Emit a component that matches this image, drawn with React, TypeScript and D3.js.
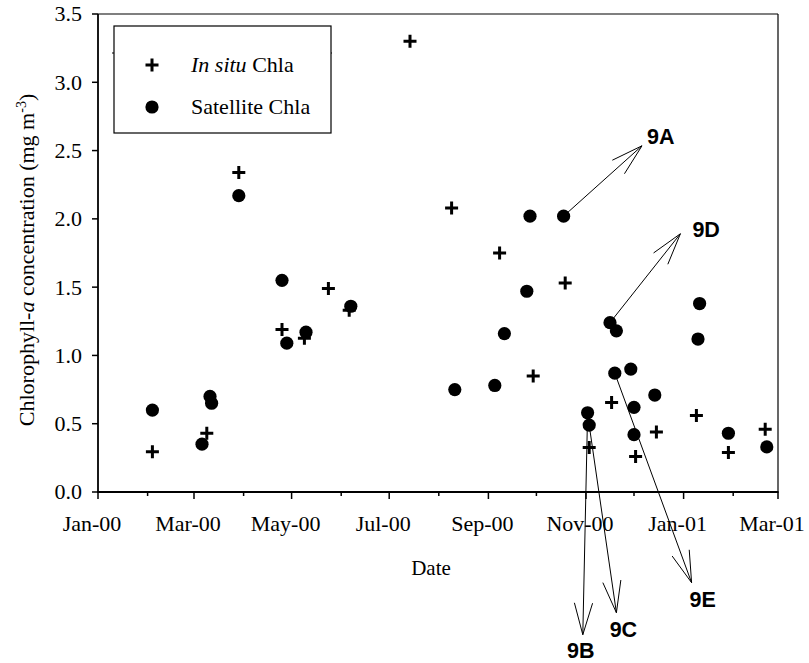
import React from "react";
import * as d3 from "d3";

// ---- Data ----
const inSituDates = [
  "2000-02-04", "2000-03-09", "2000-03-29", "2000-04-25", "2000-05-09", "2000-05-24",
  "2000-06-06", "2000-07-14", "2000-08-09", "2000-09-08", "2000-09-29", "2000-10-19",
  "2000-11-03", "2000-11-17", "2000-12-02", "2000-12-15", "2001-01-09", "2001-01-29",
  "2001-02-21",
];
const inSituValues = [
  0.295, 0.43, 2.34, 1.19, 1.125, 1.49,
  1.33, 3.3, 2.08, 1.75, 0.85, 1.53,
  0.325, 0.655, 0.26, 0.44, 0.56, 0.29,
  0.46,
];
const satDates = [
  "2000-02-04", "2000-03-06", "2000-03-11", "2000-03-12", "2000-03-29", "2000-04-25",
  "2000-04-28", "2000-05-10", "2000-06-07", "2000-08-11", "2000-09-05", "2000-09-11",
  "2000-09-25", "2000-09-27", "2000-10-18", "2000-11-02", "2000-11-03", "2000-11-16",
  "2000-11-20", "2000-11-19", "2000-11-29", "2000-12-01", "2000-12-01", "2000-12-14",
  "2001-01-10", "2001-01-11", "2001-01-29", "2001-02-22",
];
const satValues = [
  0.6, 0.35, 0.7, 0.65, 2.17, 1.55,
  1.09, 1.17, 1.36, 0.75, 0.78, 1.16,
  1.47, 2.02, 2.02, 0.58, 0.49, 1.24,
  1.18, 0.87, 0.9, 0.62, 0.42, 0.71,
  1.12, 1.38, 0.43, 0.33,
];
const yTicks = [0, 0.5, 1.0, 1.5, 2.0, 2.5, 3.0, 3.5];

// annotations: label, from point (date, value), arrow tip (date, value)
const annotLabels = ["9A", "9B", "9C", "9D", "9E"];
const annotFromDates = ["2000-10-18", "2000-11-02", "2000-11-03", "2000-11-16", "2000-11-19"];
const annotFromValues = [2.02, 0.58, 0.49, 1.24, 0.87];
const annotToDates = ["2000-12-06", "2000-10-30", "2000-11-20", "2000-12-30", "2001-01-06"];
const annotToValues = [2.535, -1.045, -0.884, 1.891, -0.664];
// label placement (style): offset from tip, anchor
const annotLabelStyle = [
  { dx: 5, dy: -2, anchor: "start" },
  { dx: -2, dy: 23, anchor: "middle" },
  { dx: 7, dy: 24, anchor: "middle" },
  { dx: 12, dy: 3, anchor: "start" },
  { dx: 11, dy: 24, anchor: "middle" },
];

const parse = d3.timeParse("%Y-%m-%d");

export default function App() {
  const W = 809, H = 663;
  const left = 98, right = 778, top = 14, bottom = 492;
  const x = d3.scaleTime().domain([new Date(2000, 0, 1), new Date(2001, 2, 1)]).range([left, right]);
  const y = d3.scaleLinear().domain([0, 3.5]).range([bottom, top]);
  const months = d3.timeMonth.range(new Date(2000, 0, 1), new Date(2001, 2, 2));
  const fmt = d3.timeFormat("%b-%y");
  const serif = "Liberation Serif";
  const sans = "Liberation Sans";

  const plus = (cx: number, cy: number, k: string) => (
    <path key={k} d={`M${cx - 6.5},${cy}H${cx + 6.5}M${cx},${cy - 6.5}V${cy + 6.5}`} stroke="#000" strokeWidth={3} fill="none" />
  );

  const arrowHead = (x1: number, y1: number, x2: number, y2: number) => {
    const a = Math.atan2(y2 - y1, x2 - x1);
    const L = 33, ha = (16 * Math.PI) / 180;
    const p1 = [x2 - L * Math.cos(a - ha), y2 - L * Math.sin(a - ha)];
    const p2 = [x2 - L * Math.cos(a + ha), y2 - L * Math.sin(a + ha)];
    return `M${p1[0]},${p1[1]}L${x2},${y2}L${p2[0]},${p2[1]}`;
  };

  return (
    <svg width={W} height={H} style={{ position: "absolute", left: 0, top: 0, background: "#fff" }}>
      <rect x={0} y={0} width={W} height={H} fill="#fff" />
      {/* frame */}
      <line x1={left} x2={right} y1={top} y2={top} stroke="#000" strokeWidth={1.2} />
      <line x1={right} x2={right} y1={top} y2={bottom} stroke="#000" strokeWidth={1.2} />
      <line x1={left} x2={left} y1={top} y2={bottom + 0.8} stroke="#000" strokeWidth={1.8} />
      <line x1={left - 0.8} x2={right + 0.6} y1={bottom} y2={bottom} stroke="#000" strokeWidth={1.8} />

      {/* y ticks */}
      {yTicks.map((t) => (
        <g key={"y" + t}>
          <line x1={left - 6} x2={left} y1={y(t)} y2={y(t)} stroke="#000" strokeWidth={1.5} />
          <text x={left - 16} y={y(t)} dy="0.34em" textAnchor="end" style={{ fontFamily: serif, fontSize: 22 }}>
            {d3.format(".1f")(t)}
          </text>
        </g>
      ))}

      {/* x ticks */}
      {months.map((m, i) => (
        <g key={"x" + i}>
          <line x1={x(m)} x2={x(m)} y1={bottom} y2={bottom + (i % 2 === 0 ? 7 : 4)} stroke="#000" strokeWidth={1.5} />
          {i % 2 === 0 && (
            <text x={x(m) - 6} y={531} textAnchor="middle" style={{ fontFamily: serif, fontSize: 22 }}>
              {fmt(m)}
            </text>
          )}
        </g>
      ))}

      {/* axis titles */}
      <text x={431} y={575} textAnchor="middle" style={{ fontFamily: serif, fontSize: 21 }}>Date</text>
      <text transform={`translate(34,260) rotate(-90)`} textAnchor="middle" style={{ fontFamily: serif, fontSize: 22 }}>
        Chlorophyll-<tspan fontStyle="italic">a</tspan> concentration (mg m
        <tspan dy={-8} fontSize={14}>-3</tspan>
        <tspan dy={8}>)</tspan>
      </text>

      {/* legend */}
      <line x1={112} x2={332} y1={53} y2={53} stroke="#000" strokeWidth={1} />
      <rect x={114} y={26} width={217} height={107} fill="#fff" stroke="#000" strokeWidth={1.2} />
      {plus(152, 65, "lp")}
      <text x={191} y={72} style={{ fontFamily: serif, fontSize: 22 }}>
        <tspan fontStyle="italic">In situ</tspan> Chla
      </text>
      <circle cx={152} cy={107} r={6.6} fill="#000" />
      <text x={191} y={114} style={{ fontFamily: serif, fontSize: 22 }}>Satellite Chla</text>

      {/* data */}
      {satDates.map((d, i) => (
        <circle key={"s" + i} cx={x(parse(d)!)} cy={y(satValues[i])} r={6.6} fill="#000" />
      ))}
      {inSituDates.map((d, i) => plus(x(parse(d)!), y(inSituValues[i]), "p" + i))}

      {/* annotations */}
      {annotLabels.map((lab, i) => {
        const x1 = x(parse(annotFromDates[i])!), y1 = y(annotFromValues[i]);
        const x2 = x(parse(annotToDates[i])!), y2 = y(annotToValues[i]);
        const st = annotLabelStyle[i];
        return (
          <g key={"a" + lab}>
            <line x1={x1} y1={y1} x2={x2} y2={y2} stroke="#000" strokeWidth={1} />
            <path d={arrowHead(x1, y1, x2, y2)} stroke="#000" strokeWidth={1} fill="none" />
            <text x={x2 + st.dx} y={y2 + st.dy} textAnchor={st.anchor as any} style={{ fontFamily: sans, fontWeight: "bold", fontSize: 21.5 }}>
              {lab}
            </text>
          </g>
        );
      })}
    </svg>
  );
}
